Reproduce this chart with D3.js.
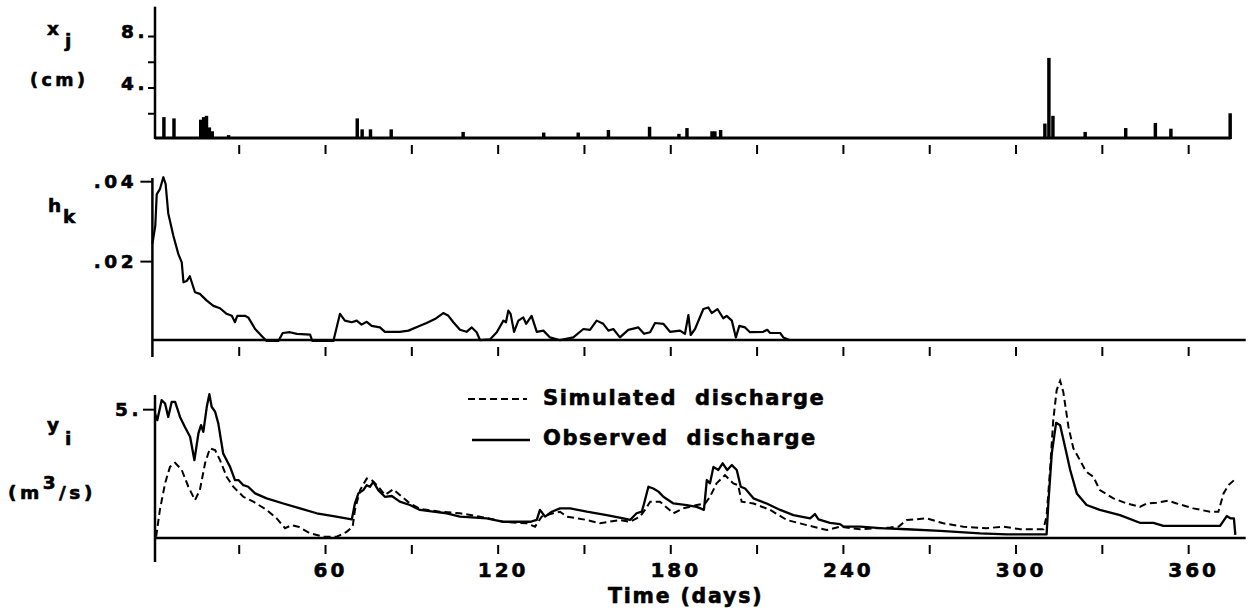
<!DOCTYPE html>
<html>
<head>
<meta charset="utf-8">
<script src="https://cdn.jsdelivr.net/npm/d3@7/dist/d3.min.js"></script>
<style>
  body { margin: 0; background: #fff; }
  svg text { font-family: "DejaVu Sans", Verdana, sans-serif; font-weight: bold; fill: #000; stroke: #000; stroke-width: 0.6px; }
</style>
</head>
<body>
<script>
// precipitation x_j (cm), one bar per day
var xjDay = [4, 7.5, 16.8, 17.8, 18.8, 19.8, 20.8, 26.5, 71.2, 72.9, 75.8, 83, 108, 136, 148, 158.5,
             172.8, 183, 185.8, 194.5, 195.5, 197.5, 310.2, 311.6, 313, 324.2, 338.3, 348.6, 354, 374.6];
var xjCm = [1.7, 1.6, 1.5, 1.7, 1.8, 0.9, 0.6, 0.3, 1.6, 0.75, 0.75, 0.75, 0.55, 0.5, 0.5, 0.7,
            0.95, 0.4, 0.85, 0.6, 0.6, 0.7, 1.2, 6.3, 1.8, 0.55, 0.85, 1.25, 0.8, 2.0];

// kernel h_k
var hkDay = [0, 1, 1.5, 2.6, 3.8, 4.6, 5.5, 7.3, 9, 10.2, 10.8, 11.9, 13, 14.8, 16.5, 18.9, 21.2, 23.5,
             25.8, 27.6, 28.7, 29.5, 32.2, 33.3, 35.7, 38.5, 39.7, 43.8, 45.3, 47.8, 50.2, 54.8, 55.6, 62.9,
             65.2, 66.9, 69.3, 71, 72.7, 74.5, 76.2, 79.1, 80.8, 86, 89, 93, 95.3, 98.2, 101.1, 102.9, 104.6,
             106.9, 109.2, 111, 112.7, 113.9, 117.3, 119.7, 122, 122.9, 123.7, 124.5, 125.7, 127.2, 128.9,
             129.9, 131.8, 133.6, 135.9, 138.2, 141.7, 146.3, 149.8, 152.1, 154.4, 156.7, 158.5, 160.2,
             162.5, 165.4, 168.9, 170.9, 173, 174.7, 177.6, 179.9, 183.4, 185.1, 186.3, 187.1, 188.6, 191.5,
             193.2, 194.4, 196.4, 198.4, 199.6, 201.4, 202.8, 204, 206, 207.7, 212.3, 213.7, 214.7, 218.2,
             219.3, 221.6];
var hkVal = [0.0243, 0.0288, 0.0367, 0.038, 0.041, 0.0393, 0.032, 0.0263, 0.0218, 0.0197, 0.0147, 0.015,
             0.0162, 0.0122, 0.0118, 0.0101, 0.0088, 0.0082, 0.0068, 0.0063, 0.0047, 0.0063, 0.0063, 0.0059,
             0.003, 0.0009, 0, 0, 0.002, 0.0022, 0.0018, 0.0016, 0, 0,
             0.0068, 0.0051, 0.0047, 0.0051, 0.0041, 0.0048, 0.0038, 0.0034, 0.0023, 0.0023, 0.0026, 0.0038,
             0.0045, 0.0055, 0.007, 0.0063, 0.0047, 0.0028, 0.0023, 0.0034, 0.0022, 0.0002, 0.0004, 0.0022,
             0.0051, 0.0047, 0.0076, 0.0068, 0.0023, 0.0051, 0.0059, 0.0043, 0.0063, 0.0023, 0.0026, 0.0009,
             0.0002, 0.0009, 0.003, 0.0028, 0.0051, 0.0043, 0.0026, 0.003, 0.0009, 0.0028, 0.0034, 0.0018,
             0.0022, 0.0045, 0.0043, 0.0023, 0.0026, 0.0018, 0.0065, 0.0015, 0.003, 0.008, 0.0084, 0.007,
             0.008, 0.0057, 0.0063, 0.0051, 0.0009, 0.0038, 0.0034, 0.0022, 0.0023, 0.0028, 0.002, 0.002,
             0.0009, 0.0002];

// observed discharge y_i (m3/s)
var obsDay = [0.9, 1.7, 3.2, 4.4, 5.5, 6.7, 7.9, 9.6, 11.3, 13.1, 14.6, 16, 16.9, 17.7, 18.9, 19.8, 20.6,
              21.8, 22.9, 24.6, 27, 28.7, 29.9, 31.6, 33.3, 35.7, 39.7, 45.5, 51.3, 57.1, 62.9, 69.3, 70.4,
              71.6, 73.3, 74.5, 75.6, 76.8, 78.5, 80.8, 83.2, 86, 89.5, 93, 97.6, 102.3, 106.9, 116.2, 122,
              131.3, 133.6, 134.7, 136.5, 138.8, 141.7, 145.2, 151, 157.9, 163.7, 166, 168.3, 170.1, 170.9,
              172.4, 174.1, 175.9, 177.6, 181.1, 185.7, 189.2, 191.7, 192.7, 193.8, 195, 196.7, 198.2, 199.8,
              201.4, 203.1, 204.5, 206, 208.9, 213.5, 218.2, 222.8, 228.6, 230.3, 231.5, 235.5, 239, 240.2,
              246, 252.9, 262.2, 273.8, 287.7, 297, 310.8, 311.4, 312.6, 314.1, 315.5, 317.2, 319, 321.3,
              324.7, 329.3, 336.3, 343.2, 347.9, 351.4, 360.6, 371.1, 373.4, 374.8, 375.9, 376.4];
var obsFlow = [4.83, 4.57, 5.35, 5.22, 4.7, 5.28, 5.28, 4.7, 4.31, 3.93, 3.02, 4.06, 4.38, 4.12, 5.09, 5.58,
               5.09, 4.9, 4.45, 3.28, 2.76, 2.25, 2.25, 2.05, 1.99, 1.73, 1.54, 1.34, 1.15, 0.96, 0.85, 0.72,
               1.34, 1.73, 1.86, 2.05, 1.99, 2.18, 1.86, 1.6, 1.63, 1.41, 1.28, 1.09, 1.02, 0.96, 0.83, 0.76,
               0.63, 0.63, 0.7, 1.09, 0.83, 1.02, 1.15, 1.15, 1.02, 0.89, 0.76, 0.7, 0.96, 1.02, 1.34, 1.99,
               1.92, 1.8, 1.6, 1.34, 1.28, 1.21, 1.09, 2.25, 2.12, 2.76, 2.64, 2.9, 2.64, 2.83, 2.64, 1.99,
               1.92, 1.54, 1.34, 1.09, 0.89, 0.76, 0.93, 0.72, 0.59, 0.54, 0.44, 0.44, 0.38, 0.34, 0.28,
               0.18, 0.14, 0.14, 1.34, 3.28, 4.47, 4.38, 3.54, 2.64, 1.73, 1.28, 1.09, 0.89, 0.59, 0.59, 0.47,
               0.47, 0.47, 0.85, 0.76, 0.76, 0.12];

// simulated discharge
var simDay = [1.3, 2.6, 4.4, 6.1, 7.9, 10.2, 12.5, 14.8, 16.5, 18.3, 20, 21.8, 23.5, 25.8, 28.1, 31.6, 35.1,
              39.7, 43.2, 46.1, 48.4, 50.7, 54.8, 59.4, 64.1, 67.5, 69.6, 70.4, 72.2, 74.5, 76.2, 78.5, 80.8,
              83.7, 86, 89.5, 93, 100, 106.9, 113.9, 122, 130.1, 133, 135.3, 139.3, 141.7, 144, 151, 155.6,
              162.5, 166, 169.5, 171.2, 173, 176.4, 181.1, 184.5, 189.2, 192.1, 193.8, 196.1, 199, 201.9,
              203.6, 204.8, 208.9, 214.7, 220.5, 227.4, 234.4, 239, 246, 256.4, 259.3, 262.2, 269.1, 274.9,
              281.9, 290, 295.8, 301.6, 309.7, 310.8, 312, 313.1, 314.3, 315.5, 316.6, 318.4, 320.1, 322.4,
              324.2, 325.3, 327, 329.3, 334, 338.6, 343.2, 345.6, 349, 353.1, 356, 361.8, 367.6, 370.5, 372.3,
              374, 376];
var simFlow = [0.05, 1.09, 2.12, 2.76, 2.92, 2.64, 1.99, 1.47, 1.86, 2.9, 3.48, 3.41, 3.02, 2.38, 1.99, 1.6,
               1.41, 1.09, 0.76, 0.38, 0.5, 0.44, 0.18, 0.05, 0.05, 0.24, 0.44, 1.09, 1.86, 2.31, 2.25, 1.99,
               1.67, 1.89, 1.67, 1.34, 1.13, 1.02, 0.96, 0.83, 0.63, 0.57, 0.44, 0.83, 0.96, 1.02, 0.83, 0.7,
               0.57, 0.7, 0.63, 0.83, 1.09, 1.41, 1.41, 0.96, 1.15, 1.28, 1.34, 1.6, 2.12, 2.44, 2.12, 2.05,
               1.41, 1.34, 1.09, 0.7, 0.5, 0.31, 0.44, 0.34, 0.41, 0.44, 0.7, 0.76, 0.57, 0.44, 0.38, 0.44,
               0.34, 0.34, 0.85, 2.64, 4.57, 5.74, 6.1, 5.67, 4.31, 3.48, 3.02, 2.64, 2.51, 2.38, 1.86, 1.54,
               1.34, 1.21, 1.34, 1.37, 1.45, 1.34, 1.15, 1.02, 1.02, 1.73, 2.05, 2.25];

var dayTicks = [30, 60, 90, 120, 150, 180, 210, 240, 270, 300, 330, 360];
var xjTicks = [2, 4, 6, 8];
var hkTicks = [0.02, 0.04];
var flowTicks = [5];

var svg = d3.select('body').append('svg').attr('width', 1253).attr('height', 616);

var x = d3.scaleLinear().domain([0, 380]).range([152.4, 1245.7]);
var yTop = d3.scaleLinear().domain([0, 10.2]).range([139, 7.7]);
var yMid = d3.scaleLinear().domain([0, 0.0408]).range([341, 178]);
var yBot = d3.scaleLinear().domain([0, 5.55]).range([538, 395]);

function zip(a, b) {
  return a.map(function (d, i) { return [d, b[i]]; });
}

function hLine(x1, x2, y, w) {
  svg.append('line').attr('x1', x1).attr('x2', x2).attr('y1', y).attr('y2', y)
    .attr('stroke', '#000').attr('stroke-width', w);
}

function vLine(xp, y1, y2, w) {
  svg.append('line').attr('x1', xp).attr('x2', xp).attr('y1', y1).attr('y2', y2)
    .attr('stroke', '#000').attr('stroke-width', w);
}

// ticks hang under the axis with a small gap
function dayAxis(y0, labels) {
  var g = svg.append('g').attr('transform', 'translate(0,' + (y0 + 7) + ')')
    .call(d3.axisBottom(x).tickValues(dayTicks).tickSize(9).tickPadding(9)
      .tickFormat(function (d) { return labels && d % 60 === 0 ? d : ''; }));
  g.select('.domain').remove();
  g.selectAll('line').attr('stroke-width', 2);
  g.selectAll('text').attr('font-family', null).attr('font-size', 20)
    .style('letter-spacing', '3px').attr('dx', 5);
}

function valueAxis(scale, ax, ticks, len, fmt, labelRight, dy) {
  var g = svg.append('g').attr('transform', 'translate(' + ax + ',0)')
    .call(d3.axisLeft(scale).tickValues(ticks).tickSize(len).tickFormat(fmt));
  g.select('.domain').remove();
  g.selectAll('line').attr('stroke-width', 2);
  g.selectAll('text').attr('font-family', null).attr('font-size', 18.5)
    .style('letter-spacing', '3.5px').attr('x', labelRight - ax + 5).attr('dy', dy);
}

// --- top panel: x_j
var topX = 155;
vLine(topX, yTop.range()[1] - 1, yTop(0), 2.5);
svg.append('g').selectAll('rect')
  .data(zip(xjDay, xjCm))
  .enter()
  .append('rect')
  .attr('x', function (d) { return x(d[0] - 0.6); })
  .attr('width', x(1.2) - x(0))
  .attr('y', function (d) { return yTop(d[1]); })
  .attr('height', function (d) { return yTop(0) - yTop(d[1]); })
  .attr('fill', '#000');
hLine(topX, x(374.8), yTop(0) - 1, 3);
valueAxis(yTop, topX, xjTicks, 7, function (d) { return d % 4 === 0 ? d + '.' : ''; }, 143, '0.1em');
dayAxis(yTop(0) - 1, false);

// --- middle panel: h_k
var midX = x(0);
vLine(midX, yMid.range()[1], yMid(0) + 16, 2.5);
hLine(midX, x(380), yMid(0) - 1, 2.5);
svg.append('path')
  .datum(zip(hkDay, hkVal))
  .attr('d', d3.line().x(function (d) { return x(d[0]); }).y(function (d) { return yMid(d[1]); }))
  .attr('fill', 'none').attr('stroke', '#000').attr('stroke-width', 2.2).attr('stroke-linejoin', 'round');
valueAxis(yMid, midX, hkTicks, 12, function (d) { return d3.format('.2f')(d).slice(1); }, 132, '0.35em');
dayAxis(yMid(0) - 1, false);

// --- bottom panel: y_i
var botX = 155;
vLine(botX, yBot.range()[1], yBot(0) + 24, 2.5);
hLine(botX, x(380), yBot(0), 2.5);
var flowLine = d3.line().x(function (d) { return x(d[0]); }).y(function (d) { return yBot(d[1]); });
svg.append('path')
  .datum(zip(simDay, simFlow))
  .attr('d', flowLine)
  .attr('fill', 'none').attr('stroke', '#000').attr('stroke-width', 2).attr('stroke-dasharray', '7,4');
svg.append('path')
  .datum(zip(obsDay, obsFlow))
  .attr('d', flowLine)
  .attr('fill', 'none').attr('stroke', '#000').attr('stroke-width', 2.3).attr('stroke-linejoin', 'round');
valueAxis(yBot, botX, flowTicks, 12, function (d) { return d + '.'; }, 137, '0.35em');
dayAxis(yBot(0), true);

// legend
svg.append('line').attr('x1', 468).attr('x2', 527).attr('y1', 399).attr('y2', 399)
  .attr('stroke', '#000').attr('stroke-width', 2).attr('stroke-dasharray', '7,4');
svg.append('line').attr('x1', 472).attr('x2', 530).attr('y1', 440).attr('y2', 440)
  .attr('stroke', '#000').attr('stroke-width', 2.3);
svg.append('text').attr('x', 543).attr('y', 405).attr('font-size', 21)
  .style('letter-spacing', '1.6px').style('white-space', 'pre').text('Simulated  discharge');
svg.append('text').attr('x', 543).attr('y', 445).attr('font-size', 21)
  .style('letter-spacing', '1.6px').style('white-space', 'pre').text('Observed  discharge');

// axis titles
svg.append('text').attr('x', 608).attr('y', 603).attr('font-size', 20.5)
  .style('letter-spacing', '1.8px').text('Time (days)');

var t = svg.append('text').attr('x', 47).attr('y', 35).attr('font-size', 18.5);
t.append('tspan').text('x');
t.append('tspan').attr('x', 65).attr('dy', 12).text('j');
svg.append('text').attr('x', 30).attr('y', 86).attr('font-size', 17.5)
  .style('letter-spacing', '3.5px').text('(cm)');

t = svg.append('text').attr('x', 48).attr('y', 212).attr('font-size', 18.5);
t.append('tspan').text('h');
t.append('tspan').attr('x', 63).attr('dy', 11).text('k');

t = svg.append('text').attr('x', 47).attr('y', 431).attr('font-size', 18.5);
t.append('tspan').text('y');
t.append('tspan').attr('x', 65).attr('dy', 14).text('i');

t = svg.append('text').attr('x', 8).attr('y', 499).attr('font-size', 18.5).style('letter-spacing', '3.5px');
t.append('tspan').text('(m');
t.append('tspan').attr('dy', -10).text('3');
t.append('tspan').attr('dy', 10).text('/s)');
</script>
</body>
</html>
